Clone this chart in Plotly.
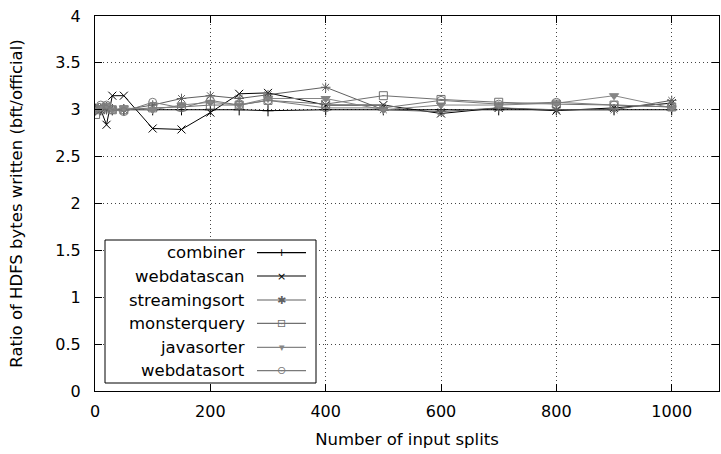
import plotly.graph_objects as go

splits = [1, 10, 20, 30, 50, 100, 150, 200, 250, 300, 400, 500, 600, 700, 800, 900, 1000]

combiner     = [3.00, 3.00, 3.02, 3.00, 3.00, 3.00, 3.00, 3.00, 3.00, 2.99, 3.00, 3.00, 3.00, 3.00, 3.00, 3.00, 3.00]
webdatascan  = [3.03, 3.00, 2.84, 3.15, 3.15, 2.80, 2.79, 2.97, 3.17, 3.18, 3.05, 3.05, 2.96, 3.02, 2.99, 3.02, 3.07]
streamingsort= [3.00, 3.02, 3.00, 3.00, 3.00, 3.05, 3.12, 3.15, 3.12, 3.16, 3.24, 3.00, 2.98, 3.02, 3.00, 3.00, 3.10]
monsterquery = [2.95, 3.00, 3.02, 3.00, 3.00, 3.02, 3.03, 3.05, 3.05, 3.10, 3.06, 3.15, 3.11, 3.08, 3.06, 3.05, 3.03]
javasorter   = [3.00, 3.02, 3.05, 3.00, 3.02, 3.00, 3.05, 3.08, 3.05, 3.12, 3.12, 3.00, 3.05, 3.05, 3.07, 3.15, 3.02]
webdatasort  = [3.02, 3.05, 3.05, 3.00, 2.98, 3.08, 3.02, 3.10, 3.05, 3.10, 3.02, 3.02, 3.10, 3.06, 3.08, 3.05, 3.03]

names   = ["combiner", "webdatascan", "streamingsort", "monsterquery", "javasorter", "webdatasort"]
series  = [combiner, webdatascan, streamingsort, monsterquery, javasorter, webdatasort]
colors  = ["#000000", "#000000", "#606060", "#707070", "#858585", "#7a7a7a"]
symbols = ["cross-thin-open", "x-thin-open", "asterisk-open", "square-open-dot", "triangle-down", "circle-open-dot"]
glyphs  = ["+", "×", "✱", "⊡", "▾", "⊙"]

x_ticks = [0, 200, 400, 600, 800, 1000]
y_ticks = [0, 0.5, 1, 1.5, 2, 2.5, 3, 3.5, 4]

FONT = "DejaVu Sans"
FS = 16.5
fig = go.Figure()
for n, s, c, sym in zip(names, series, colors, symbols):
    fig.add_trace(go.Scatter(
        x=splits, y=s, name=n, mode="lines+markers",
        line=dict(color=c, width=1),
        marker=dict(symbol=sym, size=8, color=c, line=dict(color=c, width=1)),
        showlegend=False,
    ))

W, H = 721, 454
L, R, T, B = 95, 2, 16, 63
pw, ph = W - L - R, H - T - B

def px2paper_x(px):
    return (px - L) / pw

def px2paper_y(py):
    return (H - B - py) / ph

shapes = []
annotations = []
# legend box
shapes.append(dict(type="rect", xref="paper", yref="paper",
                   x0=px2paper_x(105), x1=px2paper_x(316),
                   y0=px2paper_y(383), y1=px2paper_y(240),
                   line=dict(color="black", width=1), fillcolor="white", layer="above"))
row_y = [252.7, 276.0, 300.0, 323.3, 347.3, 370.7]
for n, c, g, ry in zip(names, colors, glyphs, row_y):
    annotations.append(dict(xref="paper", yref="paper", x=px2paper_x(247), y=px2paper_y(ry),
                            text=n, showarrow=False, xanchor="right", yanchor="middle",
                            font=dict(family=FONT, size=FS, color="black")))
    shapes.append(dict(type="line", xref="paper", yref="paper",
                       x0=px2paper_x(257), x1=px2paper_x(306),
                       y0=px2paper_y(ry), y1=px2paper_y(ry),
                       line=dict(color=c, width=1.2), layer="above"))
    annotations.append(dict(xref="paper", yref="paper", x=px2paper_x(281.5), y=px2paper_y(ry),
                            text=g, showarrow=False, xanchor="center", yanchor="middle",
                            bgcolor="rgba(0,0,0,0)",
                            font=dict(family=FONT, size=11, color=c)))

axis_common = dict(
    showgrid=True, gridcolor="#444444", gridwidth=1, griddash="1px,3px",
    showline=True, linecolor="black", linewidth=1, mirror="ticks",
    ticks="inside", ticklen=7, tickcolor="black", tickwidth=1,
    zeroline=False, tickfont=dict(family=FONT, size=16, color="black"),
)

fig.update_layout(
    width=W, height=H,
    margin=dict(l=L, r=R, t=T, b=B),
    paper_bgcolor="white", plot_bgcolor="white",
    font=dict(family=FONT, size=FS, color="black"),
    xaxis=dict(range=[0, 1082], tickvals=x_ticks, ticktext=[str(v) for v in x_ticks],
               ticklabelstandoff=6,
               title=dict(text="Number of input splits", standoff=13,
                          font=dict(family=FONT, size=FS)), **axis_common),
    yaxis=dict(range=[0, 4], tickvals=y_ticks, ticktext=[f"{v:g}" for v in y_ticks],
               ticklabelstandoff=10,
               title=dict(text="Ratio of HDFS bytes written (bft/official)", standoff=28,
                          font=dict(family=FONT, size=FS)), **axis_common),
    shapes=shapes, annotations=annotations, showlegend=False,
)

fig.write_html("out.html")
